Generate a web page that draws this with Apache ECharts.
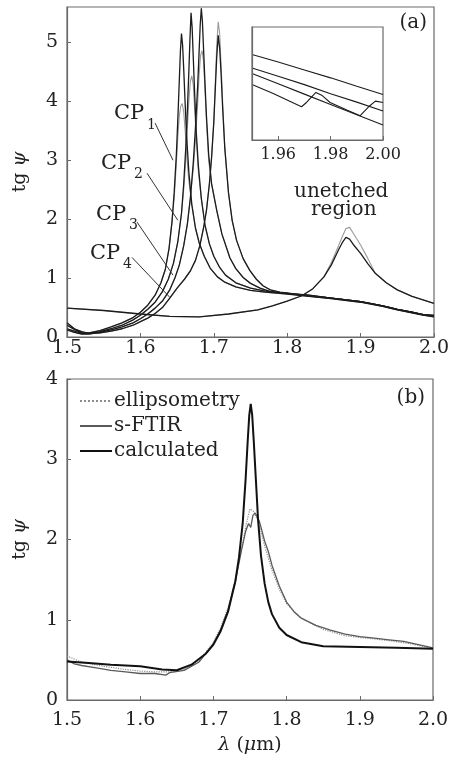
<!DOCTYPE html>
<html><head><meta charset="utf-8">
<script src="https://cdn.jsdelivr.net/npm/echarts@6/dist/echarts.min.js"></script>
<style>html,body{margin:0;padding:0;background:#fff}#c{width:453px;height:763px}</style>
</head><body><div id="c"></div>
<script>
// ---------- data ----------
const xTickLabels = [1.5, 1.6, 1.7, 1.8, 1.9, 2.0];
const yTicksA = [0, 1, 2, 3, 4, 5];
const yTicksB = [0, 1, 2, 3, 4];
const insetTicks = [1.96, 1.98, 2.00];

// panel (a): black curves
const cp1 = [[1.500,0.20],[1.510,0.13],[1.520,0.07],[1.530,0.07],[1.545,0.11],[1.560,0.17],[1.575,0.24],[1.590,0.33],[1.600,0.42],[1.610,0.54],[1.620,0.71],[1.628,0.92],[1.634,1.15],[1.639,1.5],[1.643,1.95],[1.646,2.45],[1.649,3.1],[1.651,3.7],[1.653,4.35],[1.6545,4.85],[1.656,5.15],[1.6575,4.95],[1.659,4.55],[1.661,3.95],[1.663,3.4],[1.666,2.8],[1.670,2.25],[1.675,1.85],[1.680,1.6],[1.687,1.37],[1.695,1.17],[1.705,1.02],[1.715,0.93],[1.73,0.85],[1.75,0.79],[1.77,0.76],[1.80,0.73],[1.83,0.69],[1.86,0.65],[1.90,0.59],[1.93,0.52],[1.95,0.46],[1.97,0.41],[1.985,0.37],[2.00,0.34]];
const cp2 = [[1.500,0.14],[1.510,0.10],[1.520,0.06],[1.530,0.06],[1.545,0.09],[1.560,0.14],[1.575,0.20],[1.590,0.29],[1.600,0.37],[1.610,0.47],[1.620,0.59],[1.630,0.77],[1.638,0.98],[1.645,1.25],[1.651,1.62],[1.656,2.1],[1.659,2.6],[1.662,3.25],[1.664,3.85],[1.666,4.5],[1.6675,5.05],[1.669,5.5],[1.6705,5.25],[1.672,4.75],[1.674,4.1],[1.676,3.5],[1.679,2.9],[1.683,2.35],[1.688,1.9],[1.694,1.58],[1.700,1.37],[1.708,1.18],[1.716,1.05],[1.73,0.92],[1.75,0.83],[1.77,0.78],[1.80,0.74],[1.83,0.70],[1.86,0.66],[1.90,0.60],[1.93,0.53],[1.95,0.47],[1.97,0.42],[1.985,0.38],[2.00,0.35]];
const cp3 = [[1.500,0.12],[1.510,0.08],[1.520,0.05],[1.530,0.05],[1.545,0.08],[1.560,0.12],[1.575,0.17],[1.590,0.24],[1.600,0.31],[1.610,0.39],[1.620,0.49],[1.630,0.61],[1.640,0.80],[1.647,1.0],[1.653,1.22],[1.659,1.55],[1.664,1.92],[1.668,2.35],[1.672,2.95],[1.675,3.55],[1.678,4.25],[1.680,4.85],[1.6815,5.3],[1.683,5.58],[1.6845,5.35],[1.686,4.9],[1.688,4.3],[1.690,3.75],[1.693,3.1],[1.697,2.6],[1.704,2.15],[1.711,1.75],[1.722,1.34],[1.73,1.16],[1.74,1.01],[1.75,0.91],[1.763,0.83],[1.777,0.77],[1.80,0.74],[1.83,0.70],[1.86,0.66],[1.90,0.60],[1.93,0.53],[1.95,0.47],[1.97,0.42],[1.985,0.38],[2.00,0.36]];
const cp4 = [[1.500,0.24],[1.510,0.14],[1.520,0.09],[1.530,0.06],[1.545,0.07],[1.560,0.10],[1.575,0.14],[1.590,0.20],[1.600,0.26],[1.610,0.32],[1.620,0.40],[1.630,0.50],[1.640,0.66],[1.650,0.83],[1.660,0.98],[1.668,1.12],[1.675,1.3],[1.681,1.55],[1.686,1.85],[1.690,2.15],[1.694,2.6],[1.697,3.05],[1.700,3.65],[1.702,4.2],[1.704,4.75],[1.706,5.12],[1.708,4.9],[1.710,4.45],[1.712,3.9],[1.715,3.2],[1.720,2.45],[1.725,1.98],[1.731,1.64],[1.740,1.33],[1.749,1.13],[1.758,0.98],[1.767,0.87],[1.777,0.80],[1.79,0.76],[1.81,0.73],[1.83,0.71],[1.86,0.66],[1.90,0.60],[1.93,0.53],[1.95,0.47],[1.97,0.42],[1.985,0.38],[2.00,0.37]];
const unetched = [[1.50,0.49],[1.55,0.45],[1.60,0.39],[1.64,0.35],[1.68,0.34],[1.72,0.39],[1.76,0.46],[1.78,0.53],[1.80,0.61],[1.82,0.70],[1.835,0.82],[1.85,1.02],[1.86,1.22],[1.87,1.48],[1.875,1.60],[1.88,1.69],[1.885,1.66],[1.89,1.57],[1.90,1.42],[1.91,1.24],[1.92,1.08],[1.935,0.92],[1.95,0.80],[1.97,0.69],[2.00,0.57]];
// panel (a): grey (measured) peak segments
const cp1GreyPeak = [[1.646,2.35],[1.649,2.95],[1.651,3.4],[1.653,3.75],[1.655,3.92],[1.657,3.96],[1.659,3.82],[1.661,3.5],[1.663,3.1],[1.666,2.65]];
const cp2GreyPeak = [[1.659,2.5],[1.662,3.05],[1.664,3.55],[1.666,4.0],[1.668,4.33],[1.670,4.43],[1.672,4.28],[1.674,3.85],[1.676,3.4],[1.679,2.8]];
const cp3GreyPeak = [[1.672,2.85],[1.675,3.35],[1.678,3.95],[1.680,4.45],[1.682,4.78],[1.684,4.86],[1.686,4.68],[1.688,4.2],[1.690,3.65],[1.693,3.0]];
const cp4GreyPeak = [[1.700,3.65],[1.702,4.3],[1.704,4.95],[1.706,5.35],[1.708,5.15],[1.710,4.6],[1.712,4.0],[1.715,3.2]];
const unetchedGreyPeak = [[1.86,1.26],[1.87,1.55],[1.875,1.70],[1.88,1.84],[1.885,1.86],[1.89,1.76],[1.90,1.56],[1.91,1.33]];

// inset (relative units)
const inset1 = [[1.95,0.756],[1.96,0.69],[1.97,0.62],[1.98,0.55],[1.99,0.475],[2.00,0.403]];
const inset2 = [[1.95,0.638],[1.96,0.565],[1.97,0.49],[1.98,0.41],[1.99,0.335],[2.00,0.256]];
const inset3 = [[1.95,0.588],[1.96,0.497],[1.97,0.406],[1.98,0.315],[1.99,0.223],[2.00,0.132]];
const inset4 = [[1.95,0.491],[1.9581,0.412],[1.9689,0.294],[1.9708,0.332],[1.9744,0.421],[1.9766,0.397],[1.9798,0.332],[1.9862,0.265],[1.9913,0.215],[1.9945,0.294],[1.9971,0.344],[2.00,0.332]];

// panel (b)
const ellipsometry = [[1.50,0.55],[1.52,0.47],[1.55,0.42],[1.58,0.38],[1.60,0.36],[1.62,0.35],[1.64,0.35],[1.66,0.38],[1.68,0.48],[1.70,0.72],[1.71,0.90],[1.72,1.15],[1.73,1.50],[1.74,1.95],[1.745,2.2],[1.75,2.38],[1.755,2.35],[1.76,2.25],[1.765,2.1],[1.77,1.92],[1.78,1.62],[1.79,1.38],[1.80,1.20],[1.82,1.02],[1.85,0.88],[1.88,0.80],[1.91,0.77],[1.94,0.74],[1.97,0.70],[2.00,0.64]];
const sFTIR = [[1.50,0.50],[1.51,0.45],[1.52,0.43],[1.54,0.40],[1.56,0.37],[1.58,0.35],[1.60,0.33],[1.62,0.33],[1.635,0.31],[1.64,0.34],[1.66,0.37],[1.68,0.47],[1.70,0.70],[1.71,0.88],[1.72,1.12],[1.73,1.48],[1.738,1.85],[1.744,2.1],[1.748,2.2],[1.751,2.15],[1.754,2.3],[1.757,2.33],[1.76,2.28],[1.763,2.22],[1.766,2.12],[1.77,1.98],[1.775,1.85],[1.78,1.68],[1.79,1.42],[1.80,1.22],[1.81,1.10],[1.82,1.02],[1.84,0.93],[1.86,0.87],[1.88,0.82],[1.90,0.79],[1.92,0.77],[1.94,0.75],[1.96,0.73],[1.98,0.69],[2.00,0.65]];
const calculated = [[1.50,0.48],[1.53,0.46],[1.56,0.44],[1.60,0.42],[1.63,0.38],[1.65,0.37],[1.67,0.44],[1.69,0.58],[1.70,0.69],[1.71,0.86],[1.72,1.10],[1.73,1.48],[1.735,1.78],[1.74,2.2],[1.744,2.75],[1.747,3.25],[1.749,3.55],[1.751,3.69],[1.753,3.55],[1.755,3.25],[1.758,2.75],[1.761,2.25],[1.765,1.8],[1.77,1.45],[1.775,1.22],[1.78,1.07],[1.79,0.90],[1.80,0.81],[1.82,0.72],[1.85,0.67],[1.90,0.66],[1.95,0.65],[2.00,0.64]];
const legendNames = ['ellipsometry', 's-FTIR', 'calculated'];

// annotation leaders (data coordinates of panel a)
const cpLeaders = [[[1.620,3.63],[1.6444,3.0]],[[1.609,2.78],[1.651,1.98]],[[1.5954,1.95],[1.6444,1.05]],[[1.5886,1.35],[1.6403,0.67]]];

// ---------- build ----------
function splice(base, seg) {
  const a = seg[0][0], b = seg[seg.length - 1][0];
  return base.filter(p => p[0] < a).concat(seg, base.filter(p => p[0] > b));
}
const FONT = 'DejaVu Serif';
const AX = '#6a6a6a';
const TXT = '#222';
const BLACK = '#1c1c1c';
const GREY = '#9a9a9a';

function xAx(gi, margin, name) {
  return {
    type: 'value', gridIndex: gi, min: 1.5, max: 2.0, interval: 0.1,
    axisLine: {show: true, lineStyle: {color: AX, width: 1.2}},
    axisTick: {show: true, inside: true, length: 4, lineStyle: {color: AX}},
    axisLabel: {margin: margin, fontFamily: FONT, fontSize: 19, color: TXT, formatter: v => v.toFixed(1)},
    splitLine: {show: false},
    name: name || '', nameLocation: 'middle', nameGap: 36,
    nameTextStyle: {fontFamily: FONT, fontSize: 19, color: TXT, rich: {i: {fontFamily: FONT, fontSize: 19, fontStyle: 'italic', color: TXT}}}
  };
}
function yAx(gi, max, ticks) {
  return {
    type: 'value', gridIndex: gi, min: 0, max: max, interval: 1,
    axisLine: {show: true, lineStyle: {color: AX, width: 1.2}},
    axisTick: {show: true, inside: true, length: 4, lineStyle: {color: AX}, customValues: ticks},
    axisLabel: {margin: 9, fontFamily: FONT, fontSize: 19, color: TXT, customValues: ticks,
      formatter: v => (Math.abs(v - Math.round(v)) < 1e-6 ? String(Math.round(v)) : '')},
    splitLine: {show: false},
    name: 'tg {i|ψ}', nameLocation: 'middle', nameGap: 37, nameRotate: 90,
    nameTextStyle: {fontFamily: FONT, fontSize: 19, color: TXT, rich: {i: {fontFamily: FONT, fontSize: 19, fontStyle: 'italic', color: TXT}}}
  };
}
function line(name, data, xi, yi, color, width, type, z) {
  return {name: name, type: 'line', xAxisIndex: xi, yAxisIndex: yi, data: data, showSymbol: false, symbol: 'none',
    lineStyle: {color: color, width: width, type: type || 'solid'}, itemStyle: {color: color}, z: z || 2, silent: true};
}

const series = [
  line('gU', splice(unetched, unetchedGreyPeak), 0, 0, GREY, 1.1),
  line('g1', splice(cp1, cp1GreyPeak), 0, 0, GREY, 1.1),
  line('g2', splice(cp2, cp2GreyPeak), 0, 0, GREY, 1.1),
  line('g3', splice(cp3, cp3GreyPeak), 0, 0, GREY, 1.1),
  line('g4', splice(cp4, cp4GreyPeak), 0, 0, GREY, 1.1),
  line('bU', unetched, 0, 0, BLACK, 1.3, null, 3),
  line('b1', cp1, 0, 0, BLACK, 1.3, null, 3),
  line('b2', cp2, 0, 0, BLACK, 1.3, null, 3),
  line('b3', cp3, 0, 0, BLACK, 1.3, null, 3),
  line('b4', cp4, 0, 0, BLACK, 1.3, null, 3),
  line('i1', inset1, 2, 2, BLACK, 1.1, null, 5),
  line('i2', inset2, 2, 2, BLACK, 1.1, null, 5),
  line('i3', inset3, 2, 2, BLACK, 1.1, null, 5),
  line('i4', inset4, 2, 2, BLACK, 1.1, null, 5),
  line(legendNames[0], ellipsometry, 1, 1, '#8c8c8c', 1.2, 'dotted'),
  line(legendNames[1], sFTIR, 1, 1, '#5a5a5a', 1.3),
  line(legendNames[2], calculated, 1, 1, '#111', 2.0, null, 3)
];
series[6].markLine = {
  silent: true, symbol: ['none', 'none'], label: {show: false},
  lineStyle: {color: '#333', width: 1, type: 'solid'},
  data: cpLeaders.map(s => [{coord: s[0]}, {coord: s[1]}])
};

const cpText = (t, sub, x, y, sx, sy) => [
  {type: 'text', left: x, top: y - 12, z: 20, style: {text: t, fontFamily: FONT, fontSize: 21, fill: TXT}},
  {type: 'text', left: sx, top: sy - 8, z: 20, style: {text: sub, fontFamily: FONT, fontSize: 14, fill: TXT}}
];

const option = {
  animation: false,
  backgroundColor: '#fff',
  grid: [
    {left: 67, right: 19, top: 7, height: 330, show: true, borderColor: AX, borderWidth: 1.2, backgroundColor: 'transparent'},
    {left: 67, right: 20, top: 379, height: 321, show: true, borderColor: AX, borderWidth: 1.2, backgroundColor: 'transparent'},
    {left: 252, width: 131, top: 27, height: 113, show: true, borderColor: AX, borderWidth: 1.2, backgroundColor: '#fff', z: 4}
  ],
  xAxis: [
    xAx(0, 2),
    xAx(1, 11, '{i|λ} ({i|μ}m)'),
    {type: 'value', gridIndex: 2, min: 1.95, max: 2.0, z: 6,
      axisLine: {show: true, lineStyle: {color: AX, width: 1.2}},
      axisTick: {show: true, inside: true, length: 4, lineStyle: {color: AX}, customValues: insetTicks},
      axisLabel: {margin: 7, fontFamily: FONT, fontSize: 16, color: TXT, customValues: insetTicks, formatter: v => v.toFixed(2)},
      splitLine: {show: false}}
  ],
  yAxis: [
    yAx(0, 5.6, yTicksA),
    yAx(1, 4, yTicksB),
    {type: 'value', gridIndex: 2, min: 0, max: 1, z: 6, axisLine: {show: true, lineStyle: {color: AX, width: 1.2}},
      axisTick: {show: false}, axisLabel: {show: false}, splitLine: {show: false}}
  ],
  legend: {
    data: legendNames, left: 74, top: 386, orient: 'vertical', itemWidth: 32, itemHeight: 14, itemGap: 5,
    itemStyle: {opacity: 0},
    textStyle: {fontFamily: FONT, fontSize: 20, color: TXT, padding: [0, 0, 0, -3]}, selectedMode: false
  },
  graphic: [
    {type: 'text', right: 26, top: 13, z: 20, style: {text: '(a)', fontFamily: FONT, fontSize: 20, fill: TXT}},
    {type: 'text', right: 28, top: 388, z: 20, style: {text: '(b)', fontFamily: FONT, fontSize: 20, fill: TXT}},
    {type: 'text', left: 294, top: 182, z: 20, style: {text: 'unetched', fontFamily: FONT, fontSize: 20, fill: TXT}},
    {type: 'text', left: 311, top: 200, z: 20, style: {text: 'region', fontFamily: FONT, fontSize: 20, fill: TXT}},
    ...cpText('CP', '1', 114, 115, 147, 126),
    ...cpText('CP', '2', 101, 165, 134, 175),
    ...cpText('CP', '3', 96, 216, 129, 226),
    ...cpText('CP', '4', 90, 255, 123, 265)
  ],
  series: series
};
const chart = echarts.init(document.getElementById('c'));
chart.setOption(option);
</script></body></html>
